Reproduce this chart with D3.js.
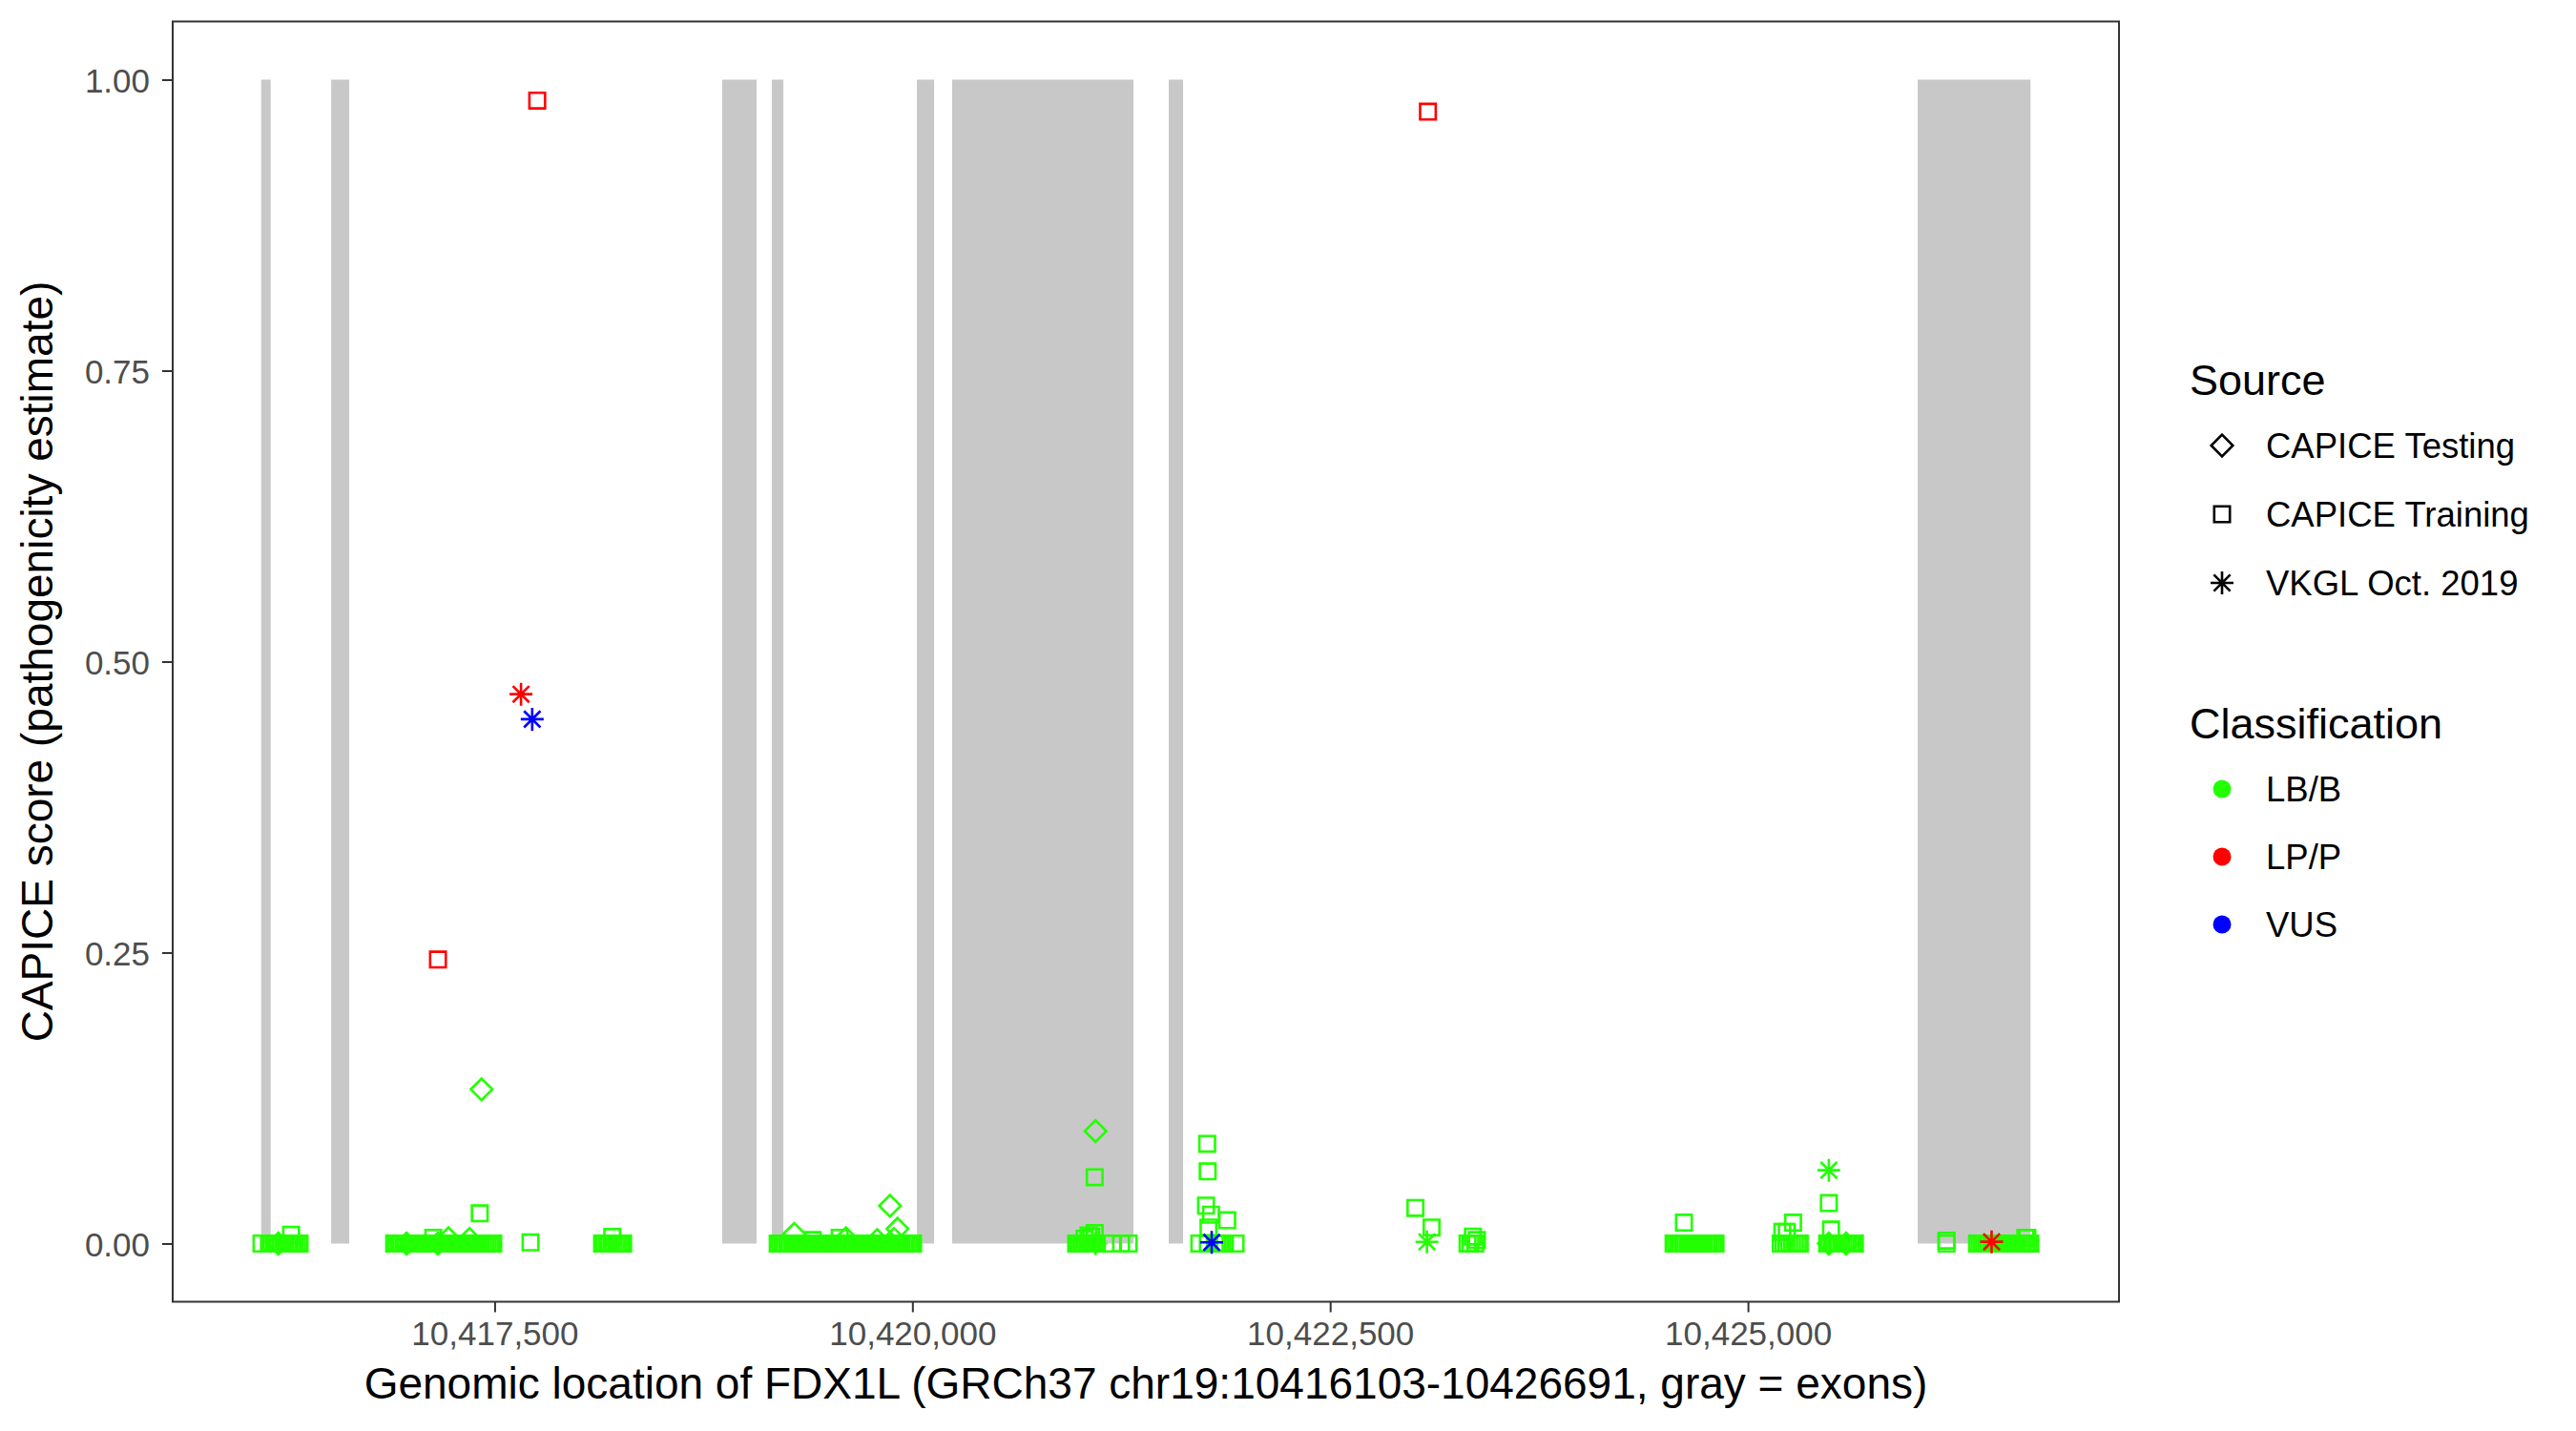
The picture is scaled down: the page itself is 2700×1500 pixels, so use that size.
<!DOCTYPE html>
<html><head><meta charset="utf-8">
<script src="https://cdn.jsdelivr.net/npm/d3@7"></script>
<style>html,body{margin:0;padding:0;background:#fff;} svg{display:block;}</style>
</head><body>
<script>
// ---------------- DATA ----------------
const geneStart = 10416103, geneEnd = 10426691;
const exonStart = [10416103, 10416522, 10418862, 10419159, 10420027, 10420238, 10421534, 10426016];
const exonEnd   = [10416160, 10416630, 10419068, 10419228, 10420130, 10421323, 10421620, 10426691];
const xTickValues = [10417500, 10420000, 10422500, 10425000];
const yTickValues = [0, 0.25, 0.5, 0.75, 1];
const sourceLabels = ["CAPICE Testing", "CAPICE Training", "VKGL Oct. 2019"];
const classLabels = ["LB/B", "LP/P", "VUS"];
const classColors = ["#22ff00", "#ff0000", "#0000ff"];

// CAPICE Testing (diamonds), LB/B
const testingBenign = [
 [10416206,0],[10416973,0],[10417161,0],[10417224,0.0045],[10417350,0.004],[10417422,0.1325],
 [10419293,0.0083],[10419603,0.0045],[10419789,0.003],[10419866,0.0324],[10419890,0.004],[10419911,0.0127],
 [10421096,0.0966],[10425484,0],[10425588,0]
];
// CAPICE Training (squares), LB/B
const trainingBenign = [
 [10416105,0],[10416150,0],[10416164,0],[10416178,0],[10416192,0],[10416206,0],[10416220,0],[10416234,0],
 [10416248,0],[10416262,0],[10416276,0],[10416290,0],[10416304,0],[10416318,0],[10416333,0],[10416282,0.0075],
 [10416899,0],[10416913,0],[10416927,0],[10416941,0],[10416955,0],[10416969,0],[10416983,0],[10416997,0],
 [10417011,0],[10417025,0],[10417039,0],[10417053,0],[10417067,0],[10417081,0],[10417095,0],[10417109,0],
 [10417123,0],[10417137,0],[10417151,0],[10417165,0],[10417179,0],[10417193,0],[10417207,0],[10417221,0],
 [10417235,0],[10417249,0],[10417263,0],[10417277,0],[10417291,0],[10417305,0],[10417319,0],[10417333,0],
 [10417347,0],[10417361,0],[10417375,0],[10417389,0],[10417403,0],[10417417,0],[10417431,0],[10417445,0],
 [10417459,0],[10417473,0],[10417487,0],[10417492,0],[10417133,0.005],[10417411,0.026],[10417715,0.001],
 [10418143,0],[10418157,0],[10418171,0],[10418185,0],[10418199,0],[10418213,0],[10418227,0],[10418241,0],
 [10418255,0],[10418269,0],[10418204,0.0057],
 [10419194,0],[10419208,0],[10419222,0],[10419236,0],[10419250,0],[10419264,0],[10419278,0],[10419292,0],
 [10419306,0],[10419320,0],[10419334,0],[10419348,0],[10419362,0],[10419376,0],[10419390,0],[10419404,0],
 [10419418,0],[10419432,0],[10419446,0],[10419460,0],[10419474,0],[10419488,0],[10419502,0],[10419516,0],
 [10419530,0],[10419544,0],[10419558,0],[10419572,0],[10419586,0],[10419600,0],[10419614,0],[10419628,0],
 [10419642,0],[10419656,0],[10419670,0],[10419684,0],[10419698,0],[10419712,0],[10419726,0],[10419740,0],
 [10419754,0],[10419768,0],[10419782,0],[10419796,0],[10419810,0],[10419824,0],[10419838,0],[10419852,0],
 [10419866,0],[10419880,0],[10419894,0],[10419908,0],[10419922,0],[10419936,0],[10419950,0],[10419964,0],
 [10419978,0],[10419992,0],[10420004,0],[10419403,0.003],[10419565,0.005],
 [10420980,0],[10420994,0],[10421008,0],[10421022,0],[10421036,0],[10421050,0],[10421064,0],[10421078,0],
 [10421091,0],[10421030,0.004],[10421070,0.006],[10421054,0.007],[10421091,0.009],[10421091,0.057],
 [10421197,0],[10421249,0],[10421294,0],
 [10421717,0],[10421768,0],[10421810,0],[10421825,0],[10421840,0],[10421855,0],[10421870,0],[10421934,0],
 [10421764,0.0857],[10421767,0.062],[10421757,0.0326],[10421787,0.0248],[10421884,0.020],[10421772,0.0138],
 [10423010,0.0306],[10423107,0.0138],[10423322,0],[10423340,0],[10423354,0.006],[10423368,0],[10423378,0.003],
 [10424555,0],[10424569,0],[10424583,0],[10424597,0],[10424611,0],[10424625,0],[10424639,0],[10424653,0],
 [10424667,0],[10424681,0],[10424695,0],[10424709,0],[10424723,0],[10424737,0],[10424751,0],[10424765,0],
 [10424779,0],[10424793,0],[10424806,0],[10424617,0.018],
 [10425196,0],[10425213,0],[10425230,0],[10425247,0],[10425264,0],[10425281,0],[10425298,0],[10425310,0],
 [10425206,0.010],[10425232,0.010],[10425270,0.018],
 [10425474,0],[10425488,0],[10425502,0],[10425516,0],[10425530,0],[10425544,0],[10425558,0],[10425572,0],
 [10425586,0],[10425600,0],[10425614,0],[10425628,0],[10425640,0],[10425497,0.012],[10425484,0.0348],
 [10426188,0],[10426188,0.0025],
 [10426371,0],[10426385,0],[10426399,0],[10426413,0],[10426427,0],[10426441,0],[10426455,0],[10426469,0],
 [10426483,0],[10426497,0],[10426511,0],[10426525,0],[10426539,0],[10426553,0],[10426567,0],[10426581,0],
 [10426595,0],[10426609,0],[10426623,0],[10426637,0],[10426651,0],[10426665,0],[10426679,0],[10426690,0],
 [10426660,0.005],[10426672,0.005]
];
// VKGL (asterisks), LB/B
const vkglBenign = [[10421096,0],[10423079,0.0014],[10425484,0.063]];
// LP/P
const trainingPathogenic = [[10417161,0.244],[10417755,0.982],[10423085,0.9725]];
const vkglPathogenic = [[10417658,0.472],[10426458,0.0015]];
// VUS
const vkglVus = [[10417725,0.4505],[10421791,0.001]];

// ---------------- LAYOUT ----------------
const W = 2700, H = 1500;
const panel = {left: 181, right: 2221, top: 22.5, bottom: 1364.5};
const FONT = "'Liberation Sans', Arial, Helvetica, sans-serif";
const pad = (geneEnd - geneStart) * 0.05;
const x = d3.scaleLinear().domain([geneStart - pad, geneEnd + pad]).range([panel.left, panel.right]);
const y = d3.scaleLinear().domain([-0.05, 1.05]).range([panel.bottom, panel.top]);

const shapePath = {
  diamond: "M0,-11.3L11.3,0L0,11.3L-11.3,0Z",
  square: "M-8.2,-8.2H8.2V8.2H-8.2Z",
  asterisk: "M-12,0H12M0,-12V12M-8.6,-8.6L8.6,8.6M-8.6,8.6L8.6,-8.6"
};

const svg = d3.select("body").append("svg").attr("width", W).attr("height", H)
  .style("font-family", FONT);
svg.append("rect").attr("width", W).attr("height", H).attr("fill", "#fff");

// exons
svg.append("g").selectAll("rect").data(exonStart).join("rect")
  .attr("x", (d) => x(d))
  .attr("width", (d, i) => x(exonEnd[i]) - x(d))
  .attr("y", y(1))
  .attr("height", y(0) - y(1))
  .attr("fill", "#c8c8c8");

// points
function drawPoints(data, shape, color) {
  svg.append("g").selectAll("path").data(data).join("path")
    .attr("transform", (d) => `translate(${x(d[0])},${y(d[1])})`)
    .attr("d", shapePath[shape])
    .attr("fill", "none")
    .attr("stroke", color)
    .attr("stroke-width", 2.6);
}
drawPoints(trainingBenign, "square", classColors[0]);
drawPoints(testingBenign, "diamond", classColors[0]);
drawPoints(vkglBenign, "asterisk", classColors[0]);
drawPoints(trainingPathogenic, "square", classColors[1]);
drawPoints(vkglPathogenic, "asterisk", classColors[1]);
drawPoints(vkglVus, "asterisk", classColors[2]);

// panel border
svg.append("rect").attr("x", panel.left).attr("y", panel.top)
  .attr("width", panel.right - panel.left).attr("height", panel.bottom - panel.top)
  .attr("fill", "none").attr("stroke", "#333333").attr("stroke-width", 2);

// axes
const xAxis = d3.axisBottom(x).tickValues(xTickValues).tickFormat(d3.format(",")).tickSizeOuter(0).tickSize(11).tickPadding(10);
const gx = svg.append("g").attr("transform", `translate(0,${panel.bottom})`).call(xAxis);
const yAxis = d3.axisLeft(y).tickValues(yTickValues).tickFormat(d3.format(".2f")).tickSizeOuter(0).tickSize(11).tickPadding(13);
const gy = svg.append("g").attr("transform", `translate(${panel.left},0)`).call(yAxis);
[gx, gy].forEach(g => {
  g.select(".domain").remove();
  g.selectAll(".tick line").attr("stroke", "#333333").attr("stroke-width", 2);
  g.selectAll(".tick text").attr("fill", "#4d4d4d").style("font-size", "35px").style("font-family", FONT);
});
gx.selectAll(".tick text").attr("dy", null).attr("y", 45);
gy.selectAll(".tick text").attr("dy", "0.36em");

// axis titles
svg.append("text").attr("x", (panel.left + panel.right) / 2).attr("y", 1466)
  .attr("text-anchor", "middle").style("font-size", "46px").attr("fill", "#000")
  .text("Genomic location of FDX1L (GRCh37 chr19:10416103-10426691, gray = exons)");
svg.append("text").attr("transform", `translate(55,${(panel.top + panel.bottom) / 2}) rotate(-90)`)
  .attr("text-anchor", "middle").style("font-size", "46px").attr("fill", "#000")
  .text("CAPICE score (pathogenicity estimate)");

// legends
const lg = svg.append("g");
lg.append("text").attr("x", 2295).attr("y", 414).style("font-size", "45px").text("Source");
const srcShapes = ["diamond", "square", "asterisk"];
const srcY = [467, 539, 611];
sourceLabels.forEach((lab, i) => {
  lg.append("path").attr("transform", `translate(2329,${srcY[i]})`).attr("d", shapePath[srcShapes[i]])
    .attr("fill", "none").attr("stroke", "#000").attr("stroke-width", 2.6);
  lg.append("text").attr("x", 2375).attr("y", srcY[i] + 13).style("font-size", "36.5px").text(lab);
});
lg.append("text").attr("x", 2295).attr("y", 774).style("font-size", "45px").text("Classification");
const clsY = [827, 898, 969];
classLabels.forEach((lab, i) => {
  lg.append("circle").attr("cx", 2329).attr("cy", clsY[i]).attr("r", 9.5).attr("fill", classColors[i]);
  lg.append("text").attr("x", 2375).attr("y", clsY[i] + 13).style("font-size", "36.5px").text(lab);
});
</script>
</body></html>
